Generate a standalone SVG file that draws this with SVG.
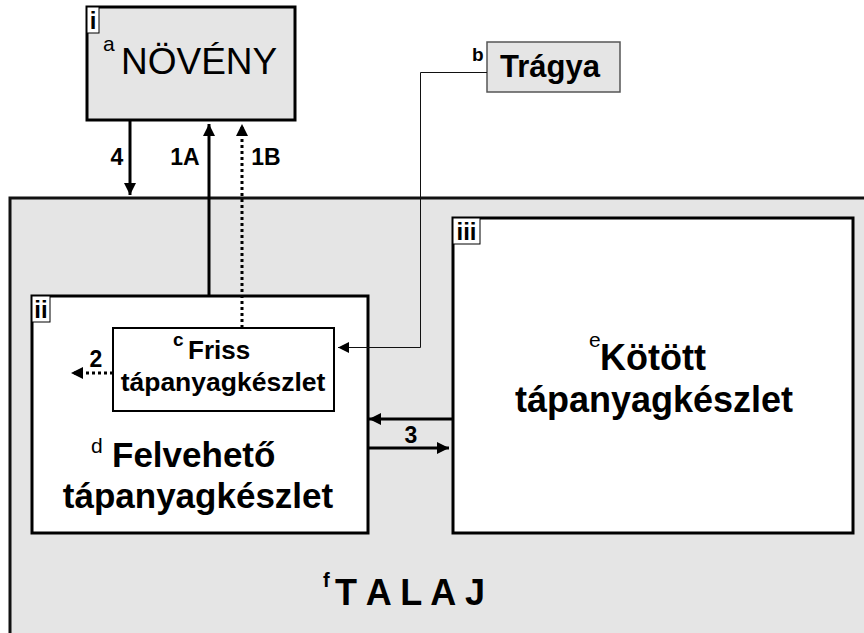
<svg xmlns="http://www.w3.org/2000/svg" width="864" height="633" viewBox="0 0 864 633">
<defs>
<marker id="ah" viewBox="0 0 10 10" refX="10" refY="5" markerWidth="4" markerHeight="4" orient="auto" markerUnits="strokeWidth">
<path d="M0,0 L10,5 L0,10 z" fill="#000"/>
</marker>
<marker id="ahThin" viewBox="0 0 10 10" refX="10" refY="5" markerWidth="11" markerHeight="12" orient="auto" markerUnits="strokeWidth">
<path d="M0,0 L10,5 L0,10 z" fill="#000"/>
</marker>
</defs>
<style>
text{font-family:"Liberation Sans",Arial,sans-serif;fill:#000}
.b{font-weight:bold}
.box{stroke:#000;stroke-width:3}
.tag{fill:#fff;stroke:#000;stroke-width:1}
.arr{stroke:#000;stroke-width:3;fill:none;marker-end:url(#ah)}
.dot{stroke-dasharray:3 3}
.lbl{font-size:23px;font-weight:bold}
</style>
<rect width="864" height="633" fill="#fff"/>
<g id="talaj">
<rect x="10" y="198" width="870" height="450" fill="#e5e5e5" stroke="#111" stroke-width="3"/>
<text x="323" y="587" class="b" font-size="20">f</text>
<text x="335" y="605" class="b" font-size="36" xml:space="preserve">T A L A J</text>
</g>
<g id="noveny">
<rect x="87" y="7" width="208" height="113" fill="#e5e5e5" class="box"/>
<rect x="87" y="7" width="12" height="26" class="tag"/>
<text x="93" y="29" class="b" font-size="24" text-anchor="middle">i</text>
<text x="103" y="51" font-size="21">a</text>
<text x="121" y="74" font-size="37">NÖVÉNY</text>
</g>
<g id="tragya">
<rect x="487" y="42" width="133" height="50" fill="#e5e5e5" stroke="#555" stroke-width="1.5"/>
<text x="472" y="61" class="b" font-size="19">b</text>
<text x="500" y="77" class="b" font-size="31">Trágya</text>
</g>
<g id="felveheto">
<rect x="32" y="296" width="336" height="237" fill="#fff" class="box"/>
<rect x="32" y="296" width="18" height="26" class="tag"/>
<text x="41" y="318" class="b" font-size="24" text-anchor="middle">ii</text>
<text x="91" y="453" font-size="21">d</text>
<text x="112" y="467" class="b" font-size="35">Felvehető</text>
<text x="198" y="508" class="b" font-size="35" text-anchor="middle">tápanyagkészlet</text>
</g>
<g id="friss">
<rect x="113" y="328" width="221" height="83" fill="#fff" stroke="#000" stroke-width="2"/>
<text x="173" y="346" class="b" font-size="19">c</text>
<text x="188" y="359" class="b" font-size="26">Friss</text>
<text x="223" y="391" class="b" font-size="26.5" text-anchor="middle">tápanyagkészlet</text>
</g>
<g id="kotott">
<rect x="453" y="218" width="400" height="315" fill="#fff" class="box"/>
<rect x="453" y="218" width="27" height="26" class="tag"/>
<text x="466.5" y="240" class="b" font-size="24" text-anchor="middle">iii</text>
<text x="589" y="347" font-size="21">e</text>
<text x="600" y="370" class="b" font-size="36">Kötött</text>
<text x="654" y="412" class="b" font-size="36" text-anchor="middle">tápanyagkészlet</text>
</g>
<g id="connectors">
<line x1="130" y1="120" x2="130" y2="195" class="arr"/>
<line x1="209" y1="296" x2="209" y2="124" class="arr"/>
<line x1="242" y1="328" x2="242" y2="124" class="arr dot"/>
<line x1="113" y1="373" x2="71" y2="373" class="arr dot"/>
<line x1="453" y1="419" x2="369" y2="419" class="arr"/>
<line x1="368" y1="448" x2="449" y2="448" class="arr"/>
<path d="M487,72.5 H420.5 V347.5 H338" fill="none" stroke="#111" stroke-width="1" marker-end="url(#ahThin)"/>
<text x="117" y="165" class="lbl" text-anchor="middle">4</text>
<text x="185" y="165" class="lbl" text-anchor="middle">1A</text>
<text x="266" y="165" class="lbl" text-anchor="middle">1B</text>
<text x="96" y="367" class="lbl" text-anchor="middle">2</text>
<text x="411" y="443" class="lbl" text-anchor="middle">3</text>
</g>
</svg>
